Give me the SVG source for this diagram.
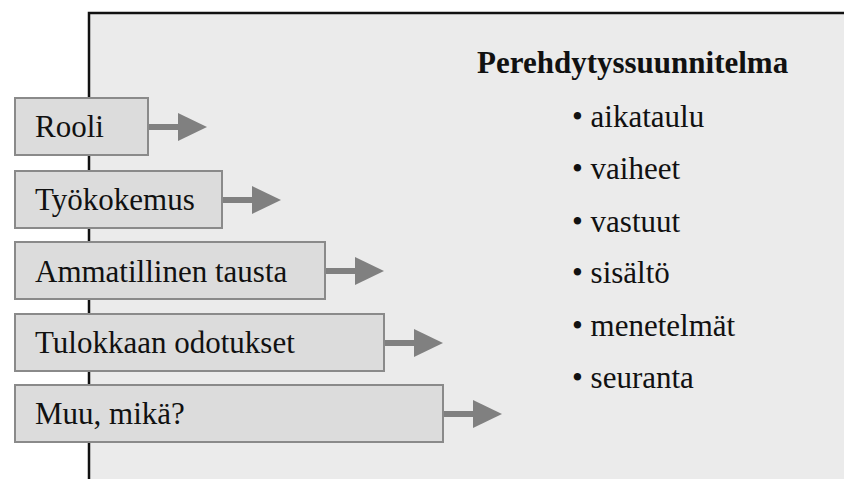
<svg xmlns="http://www.w3.org/2000/svg" width="844" height="479" viewBox="0 0 844 479">
<style>
text{font-family:"Liberation Serif","Tinos","Noto Serif","DejaVu Serif",serif;font-size:31px;fill:#111}
.title{font-weight:bold}
.box{fill:#dcdcdc;stroke:#8a8a8a;stroke-width:2}
.conn line{stroke:#808080;stroke-width:6}
</style>
<defs>
<marker id="ah" viewBox="0 0 29 28" refX="0" refY="14" markerWidth="29" markerHeight="28" markerUnits="userSpaceOnUse" orient="auto">
<path d="M0,0 L29,14 L0,28 Z" fill="#808080"/>
</marker>
</defs>
<rect width="844" height="479" fill="#ffffff"/>
<g id="panel">
<rect x="89" y="13" width="760" height="470" fill="#ebebeb"/>
<path d="M89,479 V13 H844" fill="none" stroke="#111" stroke-width="2.5"/>
</g>
<g id="plan">
<text class="title" x="477" y="73">Perehdytyssuunnitelma</text>
<text x="572" y="127">• aikataulu</text>
<text x="572" y="179">• vaiheet</text>
<text x="572" y="232">• vastuut</text>
<text x="572" y="283">• sisältö</text>
<text x="572" y="336">• menetelmät</text>
<text x="572" y="388">• seuranta</text>
</g>
<g class="conn" id="connectors">
<line x1="148" y1="127" x2="178" y2="127" marker-end="url(#ah)"/>
<line x1="222" y1="200" x2="252" y2="200" marker-end="url(#ah)"/>
<line x1="325" y1="271" x2="355" y2="271" marker-end="url(#ah)"/>
<line x1="384" y1="343" x2="414" y2="343" marker-end="url(#ah)"/>
<line x1="443" y1="414" x2="473" y2="414" marker-end="url(#ah)"/>
</g>
<g id="rooli"><rect class="box" x="15" y="98" width="133" height="57"/><text x="35" y="137">Rooli</text></g>
<g id="tyokokemus"><rect class="box" x="15" y="171" width="207" height="57"/><text x="35" y="210">Työkokemus</text></g>
<g id="ammatillinen"><rect class="box" x="15" y="242" width="310" height="57"/><text x="35" y="282">Ammatillinen tausta</text></g>
<g id="tulokkaan"><rect class="box" x="15" y="314" width="369" height="57"/><text x="35" y="353">Tulokkaan odotukset</text></g>
<g id="muu"><rect class="box" x="15" y="385" width="428" height="57"/><text x="35" y="424">Muu, mikä?</text></g>
</svg>
